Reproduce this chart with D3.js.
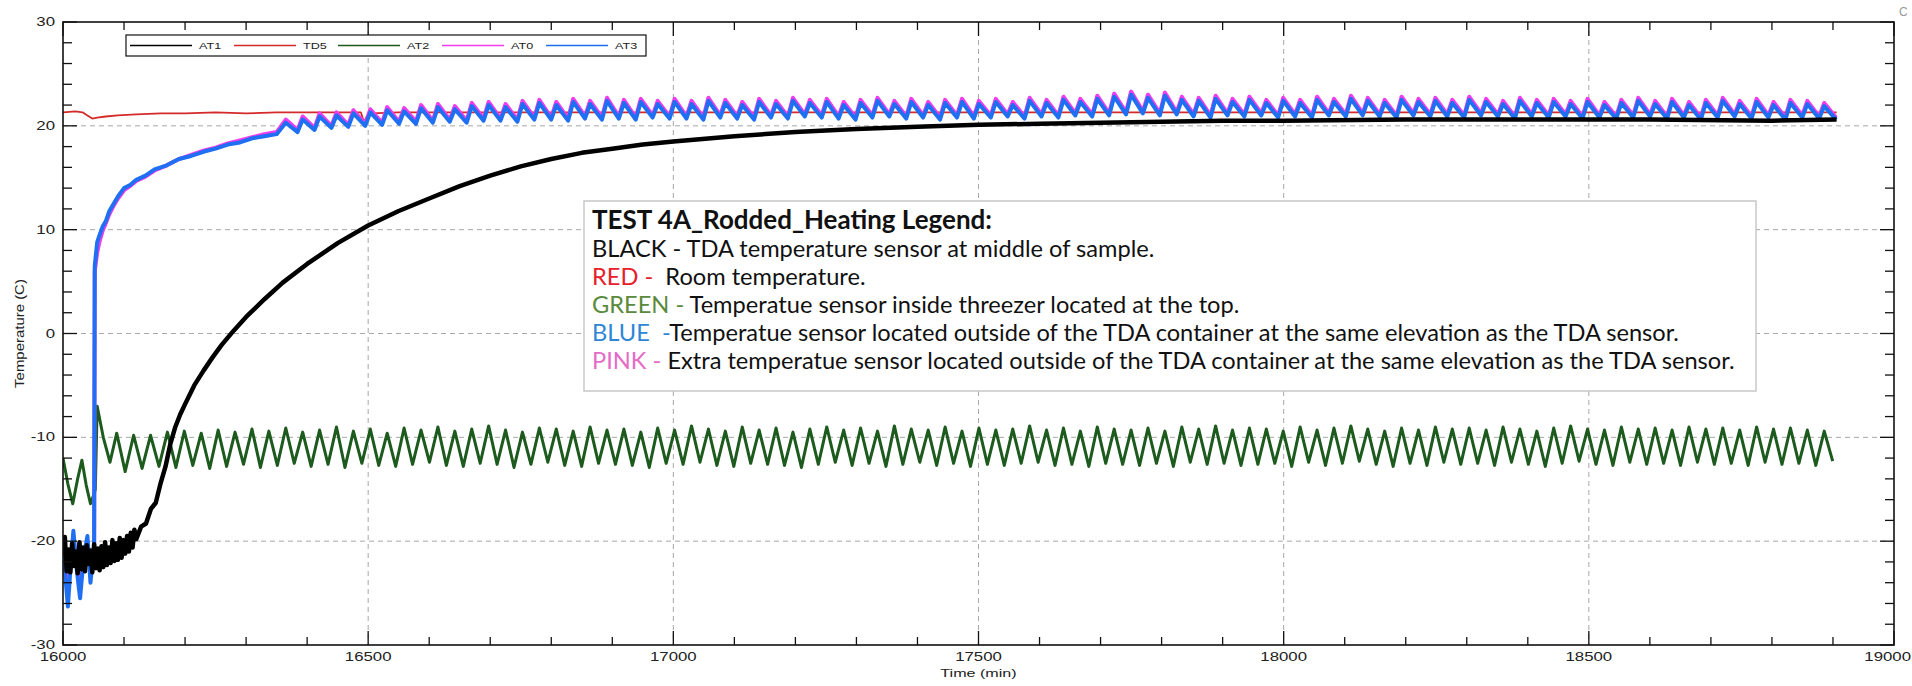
<!DOCTYPE html>
<html>
<head>
<meta charset="utf-8">
<script src="https://cdn.jsdelivr.net/npm/d3@7"></script>
<style>
  body { margin: 0; background: #fff; }
  svg { display: block; }
</style>
</head>
<body>
<svg id="chart" width="1912" height="686"></svg>
<script>
// ---------------- axis definitions ----------------
const xMajorTicks = [16000, 16500, 17000, 17500, 18000, 18500, 19000];
const yMajorTicks = [-30, -20, -10, 0, 10, 20, 30];
const legendNames = ["AT1", "TD5", "AT2", "AT0", "AT3"];
const legendColors = ["#000000", "#d42a2a", "#1d5a1d", "#ee3cee", "#1f6ff2"];

// ---------------- AT1 : TDA sensor, middle of sample (black) ----------------
// noisy start, read every 3 min from 16000 to 16120
const at1LeadStart = 16000;
const at1LeadStep = 3;
const at1LeadTemp = [
  -21.5, -19.6, -22.9, -20.8, -23.0, -20.2, -22.4, -21.0, -23.1, -20.1,
  -22.7, -20.6, -22.9, -20.4, -22.2, -20.9, -23.0, -20.3, -22.6, -20.7,
  -22.8, -20.5, -22.5, -20.1, -22.3, -20.6, -22.1, -19.9, -21.9, -20.2,
  -21.8, -19.7, -21.6, -19.9, -21.2, -19.5, -21.0, -19.2, -20.6, -18.9, -19.8];
const at1Time = [16128, 16136, 16144, 16152, 16160, 16168, 16176, 16184, 16192, 16200, 16215, 16230,
  16245, 16260, 16280, 16300, 16330, 16360, 16400, 16450, 16500, 16550, 16600, 16650, 16700, 16750,
  16800, 16850, 16900, 16950, 17000, 17100, 17200, 17300, 17400, 17500, 17600, 17700, 17800, 17900,
  18000, 18200, 18400, 18600, 18800, 18906];
const at1Temp = [-18.6, -18.3, -16.9, -16.3, -14.4, -12.8, -10.6, -9.0, -7.8, -6.8, -5.0, -3.6,
  -2.3, -1.1, 0.3, 1.6, 3.3, 4.9, 6.7, 8.7, 10.4, 11.8, 13.0, 14.2, 15.2, 16.1,
  16.8, 17.4, 17.8, 18.2, 18.5, 19.0, 19.4, 19.7, 19.9, 20.1, 20.2, 20.3, 20.4, 20.5,
  20.5, 20.6, 20.6, 20.6, 20.5, 20.6];

// ---------------- TD5 : room temperature (red) ----------------
const td5Time = [16000, 16020, 16032, 16040, 16048, 16056, 16070, 16090, 16120, 16160, 16200, 16250,
  16300, 16350, 16400, 16450, 16488, 16493, 16498, 16505, 16550, 16650, 16800, 17000, 17300, 17600,
  17900, 18200, 18500, 18906];
const td5Temp = [21.3, 21.4, 21.3, 21.0, 20.7, 20.8, 20.9, 21.0, 21.1, 21.2, 21.2, 21.3,
  21.2, 21.3, 21.3, 21.3, 21.3, 20.4, 20.9, 21.2, 21.3, 21.3, 21.3, 21.3, 21.3, 21.3,
  21.3, 21.3, 21.3, 21.3];

// ---------------- AT2 : threezer top sensor (green) ----------------
const at2LeadTime = [16000, 16008, 16016, 16024, 16031, 16038, 16045, 16050, 16053, 16056, 16066, 16077];
const at2LeadTemp = [-12.0, -14.5, -16.4, -14.0, -12.2, -14.6, -16.4, -15.6, -15.0, -7.0, -10.0, -12.4];
const at2CycleStart = 16088;   // first regular peak (min)
const at2Period = 27.7;        // compressor cycle (min)
const at2Peaks = [
  -9.6, -9.8, -9.8, -9.5, -9.4, -9.6, -9.3, -9.5, -9.2, -9.4,
  -9.1, -9.5, -9.3, -9.0, -9.4, -9.2, -9.6, -9.1, -9.3, -9.0,
  -9.4, -9.2, -8.9, -9.3, -9.5, -9.1, -9.2, -9.4, -9.0, -9.3,
  -9.2, -9.5, -9.1, -9.3, -8.9, -9.2, -9.4, -9.0, -9.3, -9.1,
  -9.5, -9.2, -9.0, -9.3, -9.1, -9.4, -8.9, -9.2, -9.3, -9.0,
  -9.4, -9.1, -9.3, -9.2, -8.9, -9.3, -9.1, -9.4, -9.0, -9.2,
  -9.3, -9.1, -9.4, -9.0, -9.2, -8.9, -9.3, -9.1, -9.2, -9.4,
  -9.0, -9.3, -9.1, -8.9, -9.2, -9.4, -9.1, -9.3, -9.0, -9.2,
  -9.1, -9.3, -9.0, -9.2, -9.4, -9.1, -8.9, -9.2, -9.3, -9.0,
  -9.2, -9.1, -9.3, -9.0, -9.2, -9.1, -9.3, -9.0, -9.2, -9.1,
  -9.3, -9.4];
const at2Troughs = [
  -13.3, -13.0, -12.8, -12.9, -12.7, -13.0, -12.8, -12.6, -12.9, -12.7,
  -12.5, -12.8, -12.6, -12.9, -12.5, -12.7, -12.8, -12.6, -12.4, -12.7,
  -12.8, -12.5, -12.6, -12.9, -12.6, -12.4, -12.7, -12.8, -12.5, -12.6,
  -12.7, -12.9, -12.5, -12.6, -12.4, -12.7, -12.8, -12.5, -12.6, -12.7,
  -12.9, -12.6, -12.4, -12.7, -12.5, -12.8, -12.6, -12.4, -12.7, -12.5,
  -12.8, -12.6, -12.7, -12.5, -12.4, -12.7, -12.6, -12.8, -12.5, -12.6,
  -12.7, -12.5, -12.8, -12.4, -12.6, -12.5, -12.7, -12.6, -12.5, -12.8,
  -12.4, -12.7, -12.5, -12.3, -12.6, -12.8, -12.5, -12.7, -12.4, -12.6,
  -12.5, -12.7, -12.4, -12.6, -12.8, -12.5, -12.3, -12.6, -12.7, -12.4,
  -12.6, -12.5, -12.7, -12.4, -12.6, -12.5, -12.7, -12.4, -12.6, -12.5,
  -12.7, -12.3];

// ---------------- AT3 : outside TDA container (blue) ----------------
const at3LeadTime = [16000, 16004, 16008, 16013, 16017, 16022, 16028, 16034, 16040, 16045, 16051];
const at3LeadTemp = [-20.0, -23.5, -26.3, -22.0, -19.0, -22.5, -25.5, -21.5, -19.5, -24.0, -20.5];
const at3RiseTime = [16052, 16056, 16060, 16065, 16070, 16076, 16082, 16090, 16100, 16110, 16120,
  16135, 16150, 16170, 16190, 16210, 16230, 16250, 16270, 16290, 16310, 16330, 16350];
const at3RiseTemp = [6.5, 8.8, 9.5, 10.3, 10.8, 11.8, 12.4, 13.2, 14.0, 14.3, 14.8,
  15.2, 15.8, 16.2, 16.8, 17.1, 17.5, 17.8, 18.2, 18.4, 18.8, 19.0, 19.2];
const at3CycleStart = 16365;
const at3Period = 27.7;
const at3Peaks = [
  20.3, 20.6, 20.9, 21.0, 21.2,
  21.3, 21.5, 21.4, 21.7, 21.8, 21.6, 21.9,
  22.0, 21.8, 22.1, 22.2, 22.0, 22.3, 22.1, 22.4, 22.2, 22.3, 22.1,
  22.3, 22.1, 22.4, 22.2, 22.0, 22.3, 22.1, 22.4, 22.2, 22.3, 22.0, 22.2, 22.4, 22.1, 22.3, 22.0, 22.2, 22.3,
  22.1, 22.3, 22.0, 22.4, 22.2, 22.5, 22.3, 22.6, 22.8, 23.0, 22.7, 22.9, 22.5, 22.4, 22.6, 22.3, 22.5, 22.2,
  22.4, 22.2, 22.5, 22.3, 22.6, 22.4, 22.2, 22.5, 22.3, 22.4, 22.2, 22.5, 22.3, 22.1, 22.4, 22.2, 22.3, 22.1,
  22.3, 22.0, 22.2, 22.4, 22.1, 22.3, 22.0, 22.2, 22.4, 22.1, 22.3, 22.0, 22.2, 22.1, 21.9];
const at3Troughs = [
  19.4, 19.6, 19.8, 19.9, 20.0,
  20.1, 20.2, 20.2, 20.3, 20.4, 20.3, 20.5,
  20.5, 20.4, 20.6, 20.6, 20.5, 20.7, 20.6, 20.7, 20.6, 20.8, 20.7,
  20.7, 20.6, 20.8, 20.7, 20.6, 20.8, 20.7, 20.9, 20.8, 20.7, 20.6, 20.8, 20.9, 20.7, 20.8, 20.6, 20.8, 20.7,
  20.8, 20.9, 20.7, 20.9, 20.8, 21.0, 20.9, 21.0, 21.1, 21.2, 21.0, 21.1, 20.9, 20.8, 21.0, 20.9, 21.0, 20.8,
  20.9, 20.8, 21.0, 20.9, 21.0, 20.9, 20.8, 21.0, 20.9, 20.9, 20.8, 21.0, 20.9, 20.7, 20.9, 20.8, 20.9, 20.7,
  20.8, 20.7, 20.8, 20.9, 20.7, 20.8, 20.6, 20.8, 20.9, 20.7, 20.8, 20.6, 20.8, 20.7, 20.6];

// ---------------- AT0 : extra outside sensor (pink) ----------------
const at0LeadTime = [16000, 16004, 16008, 16013, 16017, 16022, 16028, 16034, 16040, 16045, 16051];
const at0LeadTemp = [-20.5, -22.5, -24.5, -21.5, -19.5, -22.0, -24.0, -21.5, -20.0, -22.5, -21.0];
const at0RiseTime = [16052, 16056, 16060, 16065, 16070, 16076, 16082, 16090, 16100, 16110, 16120,
  16135, 16150, 16170, 16190, 16210, 16230, 16250, 16270, 16290, 16310, 16330, 16350];
const at0RiseTemp = [6.0, 7.8, 8.9, 9.9, 10.6, 11.5, 12.2, 13.0, 13.8, 14.2, 14.7,
  15.1, 15.7, 16.2, 16.8, 17.2, 17.6, 17.9, 18.3, 18.6, 18.9, 19.2, 19.4];
const at0CycleStart = 16365;
const at0Period = 27.7;
const at0Peaks = [
  20.6, 20.9, 21.2, 21.3, 21.5,
  21.6, 21.8, 21.7, 22.0, 22.1, 21.9, 22.2,
  22.3, 22.1, 22.4, 22.5, 22.3, 22.6, 22.4, 22.7, 22.5, 22.6, 22.4,
  22.6, 22.4, 22.7, 22.5, 22.3, 22.6, 22.4, 22.7, 22.5, 22.6, 22.3, 22.5, 22.7, 22.4, 22.6, 22.3, 22.5, 22.6,
  22.4, 22.6, 22.3, 22.7, 22.5, 22.8, 22.6, 22.9, 23.1, 23.3, 23.0, 23.2, 22.8, 22.7, 22.9, 22.6, 22.8, 22.5,
  22.7, 22.5, 22.8, 22.6, 22.9, 22.7, 22.5, 22.8, 22.6, 22.7, 22.5, 22.8, 22.6, 22.4, 22.7, 22.5, 22.6, 22.4,
  22.6, 22.3, 22.5, 22.7, 22.4, 22.6, 22.3, 22.5, 22.7, 22.4, 22.6, 22.3, 22.5, 22.4, 22.2];
const at0Troughs = [
  19.6, 19.8, 20.0, 20.1, 20.2,
  20.3, 20.4, 20.4, 20.5, 20.6, 20.5, 20.7,
  20.7, 20.6, 20.8, 20.8, 20.7, 20.9, 20.8, 20.9, 20.8, 21.0, 20.9,
  20.9, 20.8, 21.0, 20.9, 20.8, 21.0, 20.9, 21.1, 21.0, 20.9, 20.8, 21.0, 21.1, 20.9, 21.0, 20.8, 21.0, 20.9,
  21.0, 21.1, 20.9, 21.1, 21.0, 21.2, 21.1, 21.2, 21.3, 21.4, 21.2, 21.3, 21.1, 21.0, 21.2, 21.1, 21.2, 21.0,
  21.1, 21.0, 21.2, 21.1, 21.2, 21.1, 21.0, 21.2, 21.1, 21.1, 21.0, 21.2, 21.1, 20.9, 21.1, 21.0, 21.1, 20.9,
  21.0, 20.9, 21.0, 21.1, 20.9, 21.0, 20.8, 21.0, 21.1, 20.9, 21.0, 20.8, 21.0, 20.9, 20.8];

// ---------------- text box ----------------
const noteTitle = "TEST 4A_Rodded_Heating Legend:";
const noteLines = [
  [{ t: "BLACK - ", c: "#111111" }, { t: "TDA temperature sensor at middle of sample.", c: "#111111" }],
  [{ t: "RED -  ", c: "#e8202a" }, { t: "Room temperature.", c: "#111111" }],
  [{ t: "GREEN - ", c: "#5a8a3c" }, { t: "Temperatue sensor inside threezer located at the top.", c: "#111111" }],
  [{ t: "BLUE  -", c: "#2f86d6" }, { t: "Temperatue sensor located outside of the TDA container at the same elevation as the TDA sensor.", c: "#111111" }],
  [{ t: "PINK - ", c: "#e46cc8" }, { t: "Extra temperatue sensor located outside of the TDA container at the same elevation as the TDA sensor.", c: "#111111" }]
];

// ---------------- helpers ----------------
function zipPairs(times, temps) { return times.map((t, i) => [t, temps[i]]); }
function stepPairs(start, step, temps) { return temps.map((v, i) => [start + i * step, v]); }
// one peak and one trough per cycle; troughFrac = position of the trough inside the cycle
function cyclePairs(start, period, peaks, troughs, troughFrac) {
  const out = [];
  peaks.forEach((p, i) => {
    out.push([start + i * period, p]);
    if (i < troughs.length) out.push([start + (i + troughFrac) * period, troughs[i]]);
  });
  return out;
}

const at1 = stepPairs(at1LeadStart, at1LeadStep, at1LeadTemp).concat(zipPairs(at1Time, at1Temp));
const td5 = zipPairs(td5Time, td5Temp);
const at2 = zipPairs(at2LeadTime, at2LeadTemp).concat(cyclePairs(at2CycleStart, at2Period, at2Peaks, at2Troughs, 0.5));
const at3 = zipPairs(at3LeadTime, at3LeadTemp).concat(zipPairs(at3RiseTime, at3RiseTemp), cyclePairs(at3CycleStart, at3Period, at3Peaks, at3Troughs, 0.7));
const at0 = zipPairs(at0LeadTime, at0LeadTemp).concat(zipPairs(at0RiseTime, at0RiseTemp), cyclePairs(at0CycleStart, at0Period, at0Peaks, at0Troughs, 0.7));

// ---------------- layout ----------------
const plot = { left: 63, right: 1894, top: 22, bottom: 645 };
const svg = d3.select("#chart");
const x = d3.scaleLinear().domain([16000, 19000]).range([plot.left, plot.right]);
const y = d3.scaleLinear().domain([-30, 30]).range([plot.bottom, plot.top]);
const AXIS_FONT = "'Liberation Sans', Arial, sans-serif";
const STRETCH = 1.4;

svg.append("defs").append("clipPath").attr("id", "plotClip")
  .append("rect").attr("x", plot.left).attr("y", plot.top)
  .attr("width", plot.right - plot.left).attr("height", plot.bottom - plot.top);

// dashed grid at major ticks
const grid = svg.append("g").attr("stroke", "#a8a8a8").attr("stroke-width", 1).attr("stroke-dasharray", "5,4");
xMajorTicks.slice(1, -1).forEach(v => grid.append("line")
  .attr("x1", x(v)).attr("x2", x(v)).attr("y1", plot.top).attr("y2", plot.bottom));
yMajorTicks.slice(1, -1).forEach(v => grid.append("line")
  .attr("x1", plot.left).attr("x2", plot.right).attr("y1", y(v)).attr("y2", y(v)));

// data lines (room temperature lies beneath the outside sensors)
const line = d3.line().x(d => x(d[0])).y(d => y(d[1]));
const lines = svg.append("g").attr("clip-path", "url(#plotClip)").attr("fill", "none").attr("stroke-linejoin", "round");
lines.append("path").datum(td5).attr("d", line).attr("stroke", legendColors[1]).attr("stroke-width", 1.8);
lines.append("path").datum(at2).attr("d", line).attr("stroke", legendColors[2]).attr("stroke-width", 3);
lines.append("path").datum(at0).attr("d", line).attr("stroke", legendColors[3]).attr("stroke-width", 4);
lines.append("path").datum(at3).attr("d", line).attr("stroke", legendColors[4]).attr("stroke-width", 4);
lines.append("path").datum(at1).attr("d", line).attr("stroke", legendColors[0]).attr("stroke-width", 4.5);

// ticks (inward, all four sides)
const xMinor = d3.range(16000, 19001, 100);
const yMinor = d3.range(-30, 31, 2);
const ticks = svg.append("g").attr("stroke", "#111").attr("stroke-width", 1.3);
xMinor.forEach(v => {
  const len = xMajorTicks.includes(v) ? 14 : 8;
  ticks.append("line").attr("x1", x(v)).attr("x2", x(v)).attr("y1", plot.bottom).attr("y2", plot.bottom - len);
  ticks.append("line").attr("x1", x(v)).attr("x2", x(v)).attr("y1", plot.top).attr("y2", plot.top + len);
});
yMinor.forEach(v => {
  const len = yMajorTicks.includes(v) ? 14 : 9;
  ticks.append("line").attr("x1", plot.left).attr("x2", plot.left + len).attr("y1", y(v)).attr("y2", y(v));
  ticks.append("line").attr("x1", plot.right).attr("x2", plot.right - len).attr("y1", y(v)).attr("y2", y(v));
});

// frame
svg.append("rect").attr("x", plot.left).attr("y", plot.top)
  .attr("width", plot.right - plot.left).attr("height", plot.bottom - plot.top)
  .attr("fill", "none").attr("stroke", "#111").attr("stroke-width", 1.6);

// horizontally stretched axis labels
function stretchedText(g, px, py, txt, size, anchor) {
  return g.append("text").attr("transform", `translate(${px},${py}) scale(${STRETCH},1)`)
    .attr("text-anchor", anchor).attr("dominant-baseline", "central")
    .attr("font-family", AXIS_FONT).attr("font-size", size).attr("fill", "#222").text(txt);
}
const labels = svg.append("g");
xMajorTicks.forEach((v, i) => {
  const last = i === xMajorTicks.length - 1;
  stretchedText(labels, last ? 1911 : x(v), 657, String(v), 12, last ? "end" : "middle");
});
yMajorTicks.forEach(v => stretchedText(labels, plot.left - 8, y(v), String(v), 12, "end"));
stretchedText(labels, (plot.left + plot.right) / 2, 673, "Time (min)", 11.5, "middle");
labels.append("text")
  .attr("transform", `translate(19,${(plot.top + plot.bottom) / 2}) rotate(-90) scale(1.15,1)`)
  .attr("text-anchor", "middle").attr("dominant-baseline", "central")
  .attr("font-family", AXIS_FONT).attr("font-size", 13).attr("fill", "#222").text("Temperature (C)");
// small glyph at the top-right corner
labels.append("text").attr("x", 1899).attr("y", 12).attr("dominant-baseline", "central")
  .attr("font-family", AXIS_FONT).attr("font-size", 12).attr("fill", "#999").text("C");

// series legend (top-left)
const leg = svg.append("g");
const legBox = { x: 126, y: 35, w: 520, h: 21 };
leg.append("rect").attr("x", legBox.x).attr("y", legBox.y).attr("width", legBox.w).attr("height", legBox.h)
  .attr("fill", "#fff").attr("stroke", "#111").attr("stroke-width", 1.2);
legendNames.forEach((name, i) => {
  const x0 = legBox.x + 4 + i * 104;
  const cy = legBox.y + legBox.h / 2;
  leg.append("line").attr("x1", x0).attr("x2", x0 + 62).attr("y1", cy).attr("y2", cy)
    .attr("stroke", legendColors[i]).attr("stroke-width", 1.5);
  stretchedText(leg, x0 + 69, cy, name, 9, "start");
});

// annotation text box
const note = svg.append("g");
const noteBox = { x: 584, y: 201, w: 1172, h: 190 };
note.append("rect").attr("x", noteBox.x).attr("y", noteBox.y).attr("width", noteBox.w).attr("height", noteBox.h)
  .attr("fill", "#fff").attr("stroke", "#c8c8c8").attr("stroke-width", 1.5);
const NOTE_FONT = "Lato, 'Open Sans', sans-serif";
const noteWidth = 1143;   // width of the longest body line
const titleWidth = 400;   // width of the bold heading
const titleEl = note.append("text").attr("x", noteBox.x + 8).attr("y", noteBox.y + 28)
  .attr("font-family", NOTE_FONT).attr("font-weight", "bold").attr("font-size", 20).attr("fill", "#111")
  .text(noteTitle);
const rows = noteLines.map((parts, i) => {
  const t = note.append("text").attr("x", noteBox.x + 8).attr("y", noteBox.y + 56 + i * 28)
    .attr("font-family", NOTE_FONT).attr("font-size", 20).attr("xml:space", "preserve");
  parts.forEach(p => t.append("tspan").attr("fill", p.c).text(p.t));
  return t;
});
// size the text so the longest line and the heading span their measured widths
const longest = d3.max(rows, r => r.node().getComputedTextLength());
rows.forEach(r => r.attr("font-size", 20 * noteWidth / longest));
titleEl.attr("font-size", 20 * titleWidth / titleEl.node().getComputedTextLength());
</script>
</body>
</html>
